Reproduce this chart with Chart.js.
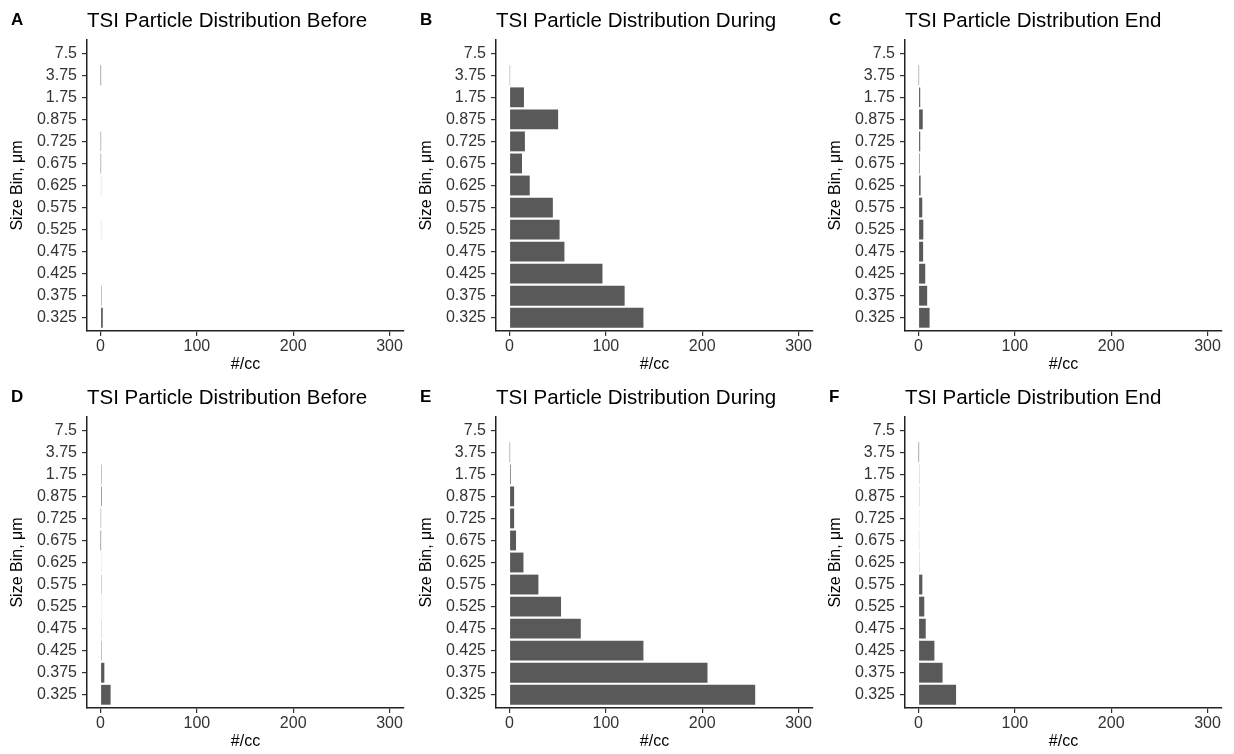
<!DOCTYPE html>
<html><head><meta charset="utf-8">
<script src="https://cdn.jsdelivr.net/npm/chart.js@4.4.1/dist/chart.umd.min.js"></script>
<style>
body{margin:0;background:#fff;width:1234px;height:754px;overflow:hidden;position:relative}
.p{position:absolute;width:409px;height:377px}
canvas{display:block}
</style></head>
<body>
<div class="p" style="left:0;top:0"><canvas id="c0" width="409" height="377"></canvas></div>
<div class="p" style="left:409px;top:0"><canvas id="c1" width="409" height="377"></canvas></div>
<div class="p" style="left:818px;top:0"><canvas id="c2" width="409" height="377"></canvas></div>
<div class="p" style="left:0;top:377px"><canvas id="c3" width="409" height="377"></canvas></div>
<div class="p" style="left:409px;top:377px"><canvas id="c4" width="409" height="377"></canvas></div>
<div class="p" style="left:818px;top:377px"><canvas id="c5" width="409" height="377"></canvas></div>
<script>
// Size bins (bottom to top)
const sizeBins = ['0.325','0.375','0.425','0.475','0.525','0.575','0.625','0.675','0.725','0.875','1.75','3.75','7.5'];
const xTicks = [0, 100, 200, 300];
const panelLetters = ['A','B','C','D','E','F'];
const panelTitles = [
  'TSI Particle Distribution Before',
  'TSI Particle Distribution During',
  'TSI Particle Distribution End',
  'TSI Particle Distribution Before',
  'TSI Particle Distribution During',
  'TSI Particle Distribution End'
];
// Counts (#/cc), same order as sizeBins
const countsA = [2.4, 1, 0.6, 0.6, 0.5, 0.6, 0.5, 0.2, 0.2, 0.6, 0.6, 0.1, 0];
const countsB = [139, 119.5, 96.5, 57, 52, 45, 21, 13, 16, 50.5, 15, 0.3, 0];
const countsC = [11.5, 9, 7, 4.8, 5, 3.9, 2.2, 1.2, 1.8, 4.4, 1.8, 0.2, 0];
const countsD = [10.5, 4, 1, 0.8, 0.7, 0.9, 0.7, 0.1, 0.3, 1.2, 1, 0, 0];
const countsE = [255, 205.5, 139, 74, 53.5, 30, 14.5, 6.8, 4.8, 4.8, 1.3, 0.2, 0];
const countsF = [39, 25, 16.5, 7.5, 6, 4, 0.8, 0.5, 0.7, 0.8, 0.8, 0.1, 0];
const allCounts = [countsA, countsB, countsC, countsD, countsE, countsF];

const FONT = '"Liberation Sans", Arial, Helvetica, sans-serif';

const panelText = {
  id: 'panelText',
  afterDraw(chart, args, opts) {
    const ctx = chart.ctx;
    ctx.save();
    ctx.fillStyle = '#000';
    ctx.textBaseline = 'alphabetic';
    ctx.textAlign = 'left';
    ctx.font = 'bold 17px ' + FONT;
    ctx.fillText(opts.letter, 11, 25);
    ctx.font = '20.5px ' + FONT;
    ctx.fillText(opts.title, chart.chartArea.left, 27);
    ctx.restore();
  }
};

allCounts.forEach((counts, i) => {
  const ctx = document.getElementById('c' + i);
  new Chart(ctx, {
    type: 'bar',
    data: {
      datasets: [{
        data: counts.map((v, k) => ({x: v, y: k})),
        backgroundColor: '#595959',
        borderWidth: 0,
        barPercentage: 0.9,
        categoryPercentage: 1
      }]
    },
    options: {
      indexAxis: 'y',
      responsive: false,
      animation: false,
      layout: {padding: {top: 40, right: 5, left: 0, bottom: 0}},
      plugins: {
        legend: {display: false},
        tooltip: {enabled: false},
        panelText: {letter: panelLetters[i], title: panelTitles[i]}
      },
      scales: {
        x: {
          type: 'linear',
          min: -14, max: 315,
          afterBuildTicks: s => { s.ticks = xTicks.map(v => ({value: v})); },
          afterFit: s => { s.height = 46; },
          grid: {display: true, drawOnChartArea: false, drawTicks: true, tickLength: 5, color: '#333', lineWidth: 1.2},
          border: {display: true, color: '#222', width: 1.5},
          ticks: {color: '#333', font: {family: FONT, size: 16}, padding: 1, maxRotation: 0},
          title: {display: true, text: '#/cc', color: '#000', font: {family: FONT, size: 16}, padding: {top: 0, bottom: 3}}
        },
        y: {
          type: 'linear',
          offset: false,
          min: -0.6, max: sizeBins.length - 1 + 0.6,
          afterBuildTicks: s => { s.ticks = sizeBins.map((_, k) => ({value: k})); },
          afterFit: s => { s.width = 87; },
          grid: {display: true, offset: false, drawOnChartArea: false, drawTicks: true, tickLength: 5, color: '#333', lineWidth: 1.2},
          border: {display: true, color: '#222', width: 1.5},
          ticks: {color: '#333', font: {family: FONT, size: 16}, padding: 5,
                  callback: v => sizeBins[v]},
          title: {display: true, text: 'Size Bin, μm', color: '#000', font: {family: FONT, size: 16}, padding: {top: 8, bottom: 0}}
        }
      }
    },
    plugins: [panelText]
  });
});
</script>
</body></html>
